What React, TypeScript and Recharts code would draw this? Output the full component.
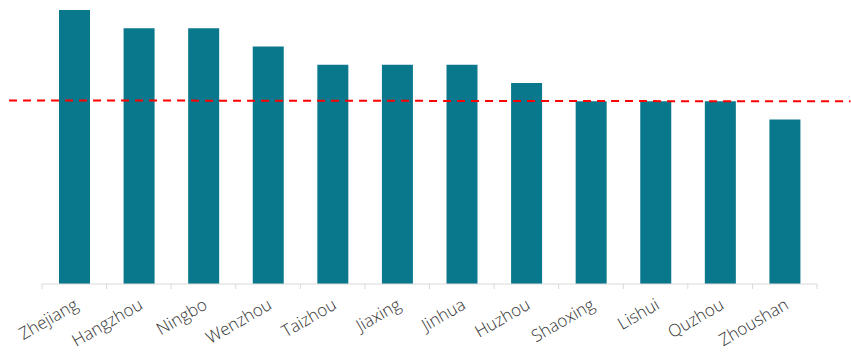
import React from "react";
import { BarChart, Bar, XAxis, YAxis, ReferenceLine } from "recharts";

const cities = [
  "Zhejiang",
  "Hangzhou",
  "Ningbo",
  "Wenzhou",
  "Taizhou",
  "Jiaxing",
  "Jinhua",
  "Huzhou",
  "Shaoxing",
  "Lishui",
  "Quzhou",
  "Zhoushan",
];
const scores = [15, 14, 14, 13, 12, 12, 12, 11, 10, 10, 10, 9];

// dashed benchmark line: start / end (x in category units, y in value units)
const benchX = [-0.51, 12.52];
const benchY = [10.05, 10.0];

const data = cities.map((city, i) => ({ city, score: scores[i], idx: i + 0.5 }));
const boundaryTicks = Array.from({ length: cities.length * 2 + 1 }, (_, i) => i / 2);

const BoundaryTick = (props: any) => {
  const { x, y, payload } = props;
  const v = payload.value as number;
  if (Number.isInteger(v)) {
    return <line x1={x} y1={y} x2={x} y2={y + 5} stroke="#d9d9d9" strokeWidth={1} />;
  }
  const label = cities[Math.floor(v)];
  const tx = x + 5;
  const ty = y + 24;
  return (
    <g transform={`translate(${tx}, ${ty}) rotate(-30)`}>
      <text
        x={0}
        y={0}
        textAnchor="end"
        fill="#333333"
        fontSize={17}
        fontWeight={300}
        fontFamily="Open Sans"
      >
        {label}
      </text>
    </g>
  );
};

const App: React.FC = () => {
  return (
    <div style={{ position: "absolute", left: 0, top: 0, background: "#fff" }}>
      <BarChart
        width={851}
        height={356}
        data={data}
        margin={{ top: 10, right: 34, left: 42, bottom: 0 }}
        style={{ overflow: "visible" }}
      >
        <XAxis xAxisId="cat" dataKey="city" hide height={0} />
        <XAxis
          xAxisId="num"
          dataKey="idx"
          type="number"
          domain={[0, cities.length]}
          allowDataOverflow
          ticks={boundaryTicks}
          interval={0}
          tickSize={0}
          tickMargin={0}
          tickLine={false}
          axisLine={{ stroke: "#d9d9d9" }}
          tick={<BoundaryTick />}
          height={72}
        />
        <YAxis hide domain={[0, 15]} />
        <Bar
          xAxisId="cat"
          dataKey="score"
          fill="#0a788c"
          barSize={31}
          isAnimationActive={false}
        />
        <ReferenceLine
          xAxisId="num"
          segment={[
            { x: benchX[0], y: benchY[0] },
            { x: benchX[1], y: benchY[1] },
          ]}
          ifOverflow="visible"
          stroke="#ff0000"
          strokeWidth={2}
          strokeDasharray="8 6"
        />
      </BarChart>
    </div>
  );
};

export default App;
